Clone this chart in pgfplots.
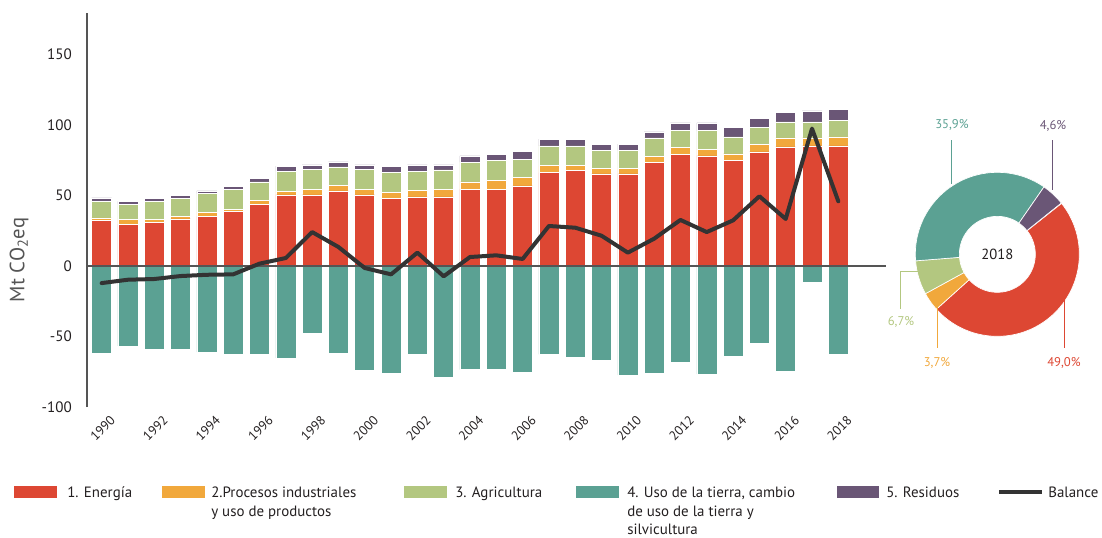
\documentclass[border=0pt]{standalone}
\usepackage{pgfplots}
\usepackage{pgfplotstable}
\pgfplotsset{compat=1.18}
\usepackage{fontspec}
\setmainfont{PT Sans}

\definecolor{cEn}{RGB}{221,71,51}
\definecolor{cIp}{RGB}{241,168,60}
\definecolor{cAg}{RGB}{179,199,128}
\definecolor{cLu}{RGB}{91,161,147}
\definecolor{cRe}{RGB}{106,86,118}
\definecolor{cBal}{RGB}{51,51,51}
\definecolor{cAx}{RGB}{85,85,85}
\definecolor{cTxt}{RGB}{35,31,32}

% Mt CO2eq: energia, procesos industriales, agricultura, residuos, UTCUTS, balance
\pgfplotstableread{
year en   ip  ag   re  lu    bal
1990 32.2 1.9 11.8 2.4 -61.8 -12.1
1991 29.8 3.1 11.1 1.9 -56.6 -9.7
1992 31.0 1.9 13.0 2.2 -59.2 -9.2
1993 33.4 1.9 12.8 1.9 -59.2 -7.1
1994 35.3 2.8 13.3 1.9 -61.1 -6.2
1995 38.8 1.4 14.0 2.4 -62.7 -5.9
1996 44.0 2.6 13.1 2.3 -62.7 1.7
1997 50.4 2.6 14.2 3.6 -65.1 5.7
1998 50.4 3.8 14.2 3.3 -47.8 24.1
1999 53.3 4.0 13.0 3.6 -61.6 13.5
2000 50.4 3.8 14.2 3.3 -74.1 -1.4
2001 48.1 4.2 14.0 4.5 -75.8 -5.9
2002 49.0 4.5 13.7 4.5 -62.5 9.5
2003 49.0 5.2 14.0 3.5 -78.6 -7.3
2004 54.5 5.2 13.9 4.5 -73.4 6.4
2005 54.5 6.1 14.2 4.3 -73.4 7.6
2006 56.8 5.9 13.1 5.4 -75.5 5.0
2007 66.3 5.0 13.9 4.8 -62.7 28.4
2008 67.7 3.6 13.9 4.8 -64.6 27.2
2009 65.3 3.8 13.0 4.3 -66.5 21.5
2010 65.3 3.8 13.0 4.3 -77.4 9.5
2011 73.6 4.3 13.0 4.3 -75.8 19.4
2012 79.1 4.9 12.1 5.5 -68.4 32.7
2013 78.1 4.8 13.2 5.5 -76.7 24.1
2014 75.0 4.5 12.1 6.9 -64.2 32.4
2015 81.0 5.4 12.1 6.4 -54.7 49.5
2016 84.5 6.4 11.4 6.6 -74.8 33.4
2017 85.2 5.7 11.4 7.8 -11.6 97.5
2018 85.2 6.4 11.9 7.8 -62.7 45.9
}\data

\pgfplotsset{
  base/.style={
    at={(65pt,97.5pt)}, anchor=south west, scale only axis,
    width=599.25pt, height=295.5pt,
    xmin=1989.43, xmax=2019.8, ymin=-100, ymax=179.5,
    clip=false,
  },
  bars/.style={bar width=0.76, draw=white, line width=0.4pt},
}

\begin{document}
\begin{tikzpicture}
\useasboundingbox (0,0) rectangle (826.5pt,402.75pt);

% stacked emissions
\begin{axis}[base, ybar stacked,
  axis x line*=bottom, axis y line*=left,
  x axis line style={draw=none},
  y axis line style={cAx, line width=1.5pt, -},
  xtick={1990,1992,...,2018}, ytick={-100,-50,...,150},
  major tick length=0pt,
  /pgf/number format/1000 sep={},
  /pgf/number format/assume math mode=true,
  xticklabel style={rotate=45, anchor=east, inner sep=0pt, yshift=-12pt,
    font=\fontsize{9.8}{11}\selectfont, text=cTxt},
  yticklabel style={inner sep=0pt, xshift=-11pt,
    font=\fontsize{11.3}{13}\selectfont, text=cTxt},
]
\addplot[bars, fill=cEn] table[x=year,y=en]{\data};
\addplot[bars, fill=cIp] table[x=year,y=ip]{\data};
\addplot[bars, fill=cAg] table[x=year,y=ag]{\data};
\addplot[bars, fill=cRe] table[x=year,y=re]{\data};
\end{axis}

% absorciones y balance
\begin{axis}[base, hide axis]
\addplot[ybar, bars, bar shift=0pt, fill=cLu] table[x=year,y=lu]{\data};
\draw[cAx, line width=1.5pt] (axis cs:1989.43,0) -- (axis cs:2019.8,0);
\addplot[cBal, line width=3pt, line join=round, line cap=round, mark=none]
  table[x=year,y=bal]{\data};
\end{axis}

% donut 2018
\begin{scope}[shift={(748pt,212pt)}]
\xdef\angA{38.4}
\foreach \p/\c in {49.0/cEn,3.7/cIp,6.7/cAg,35.9/cLu,4.6/cRe}{
  \pgfmathsetmacro\angB{\angA-3.6*\p}
  \filldraw[fill=\c, draw=white, line width=0.5pt]
    (\angA:61.5pt) arc[start angle=\angA, end angle=\angB, radius=61.5pt]
    -- (\angB:28.5pt) arc[start angle=\angB, end angle=\angA, radius=28.5pt] -- cycle;
  \global\let\angA\angB
}
\node[font=\fontsize{11}{13}\selectfont, text=cTxt] at (0,0) {2018};
\end{scope}

\begin{scope}[x=0.75pt, y=-0.75pt, yshift=402.75pt]
% y label
\node[rotate=90, text=cAx, font=\fontsize{15.5}{17}\selectfont] at (19,260) {Mt CO\textsubscript{2}eq};

% donut labels
\begin{scope}[line width=1.1pt]
\draw[cLu] (951.7,140) -- (951.7,184);
\draw[cRe] (1052.7,140) -- (1052.7,190);
\draw[cAg] (919,271.7) -- (900.7,271.7) -- (900.7,309);
\draw[cIp] (937.3,306) -- (937.3,348);
\draw[cEn] (1064.3,300) -- (1064.3,348);
\end{scope}
\begin{scope}[every node/.style={font=\fontsize{9.5}{11}\selectfont, inner sep=0pt}]
\node[text=cLu] at (952,125) {35,9\%};
\node[text=cRe] at (1053,126) {4,6\%};
\node[text=cAg] at (901,322) {6,7\%};
\node[text=cIp] at (937,363) {3,7\%};
\node[text=cEn] at (1064,363) {49,0\%};
\end{scope}

% legend
\fill[cEn] (14,486) rectangle (57,498);
\fill[cIp] (162,486) rectangle (205,498);
\fill[cAg] (404,486) rectangle (447,498);
\fill[cLu] (576,486) rectangle (619,498);
\fill[cRe] (837,486) rectangle (879,498);
\draw[cBal, line width=3pt] (999,492) -- (1042,492);
\begin{scope}[every node/.style={anchor=base west, inner sep=0pt, text=cTxt,
    font=\fontsize{11.2}{13}\selectfont}]
\node at (67,497.5) {1. Energía};
\node at (211,497.5) {2.Procesos industriales};
\node at (211,516) {y uso de productos};
\node at (455,497.5) {3. Agricultura};
\node at (627,497.5) {4. Uso de la tierra, cambio};
\node at (627,516) {de uso de la tierra y};
\node at (627,534) {silvicultura};
\node at (886,497.5) {5. Residuos};
\node at (1048,497.5) {Balance};
\end{scope}
\end{scope}
\end{tikzpicture}
\end{document}
